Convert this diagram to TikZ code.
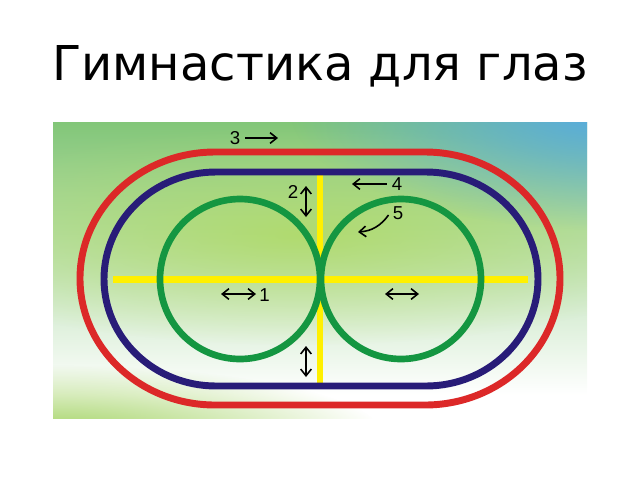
\documentclass[tikz,border=0pt]{standalone}
\usepackage{fontspec}
\setmainfont{DejaVu Sans}
\newfontfamily\labelfont{Liberation Sans}
\usepackage{tikz}
\usetikzlibrary{positioning, shapes, arrows.meta, fadings}
\definecolor{bgtop}{RGB}{130,198,120}
\definecolor{bgmid}{RGB}{175,218,95}
\definecolor{bgblue}{RGB}{85,170,230}
\definecolor{bggreen}{RGB}{160,210,95}
\definecolor{trackred}{RGB}{220,40,40}
\definecolor{tracknavy}{RGB}{40,28,120}
\definecolor{eyegreen}{RGB}{20,150,65}
\definecolor{crossyellow}{RGB}{255,240,0}
\tikzfading[name=glow, inner color=transparent!0, outer color=transparent!100]

\begin{document}
\begin{tikzpicture}[x=0.75pt, y=-0.75pt]
	\tikzstyle{outertrack}=[draw=trackred, line width=5.2pt]
	\tikzstyle{innertrack}=[draw=tracknavy, line width=5.2pt]
	\tikzstyle{eye}=[circle, draw=eyegreen, line width=5pt, minimum size=120pt, inner sep=0pt]
	\tikzstyle{cross}=[crossyellow, line width=4.8pt]
	\tikzstyle{move}=[line width=1.2pt, >={Straight Barb[length=5pt, width=8pt]}]
	\tikzstyle{num}=[font=\labelfont\fontsize{14pt}{15pt}\selectfont, inner sep=0pt]
	\useasboundingbox (0,0) rectangle (640,480);
	
	\node (title) at (320,80) [anchor=base, font=\fontsize{36pt}{40pt}\selectfont]{Гимнастика для глаз};
	
	\begin{scope}
		\clip (53,122) rectangle (587,418);
		\shade[top color=bgtop, middle color=bgmid, bottom color=white] (53,122) rectangle (587,395);
		\fill[white] (53,395) rectangle (587,418);
		\fill[bgmid, path fading=glow, opacity=0.8] (300,235) ellipse (420 and 110);
		\fill[bgblue, path fading=glow] (610,110) ellipse (320 and 120);
		\fill[bggreen, path fading=glow] (53,435) ellipse (330 and 70);
	\end{scope}
	
	\draw[cross] (113,279.5) -- (528,279.5);
	\draw[cross] (320,174) -- (320,385);
	
	\draw[outertrack] (215,152) -- (425,152) arc(-90:90:135 and 126.5) -- (215,405) arc(90:270:135 and 126.5) -- cycle;
	\draw[innertrack] (216,172) -- (426,172) arc(-90:90:112 and 107) -- (216,386) arc(90:270:112 and 107) -- cycle;
	\node (left) at (240,279) [eye]{};
	\node (right) at (401,279) [eye]{};
	
	\node (n1) at (259,295) [num, anchor=west]{1};
	\node (n2) at (293,192) [num]{2};
	\node (n3) at (235,138) [num]{3};
	\node (n4) at (397,184) [num]{4};
	\node (n5) at (398,213) [num]{5};
	
	\coordinate (h1a) at (221,294);
	\coordinate (h1b) at (256,294);
	\coordinate (h2a) at (385,294);
	\coordinate (h2b) at (419,294);
	\coordinate (v1a) at (306,186);
	\coordinate (v1b) at (306,217);
	\coordinate (v2a) at (306,346);
	\coordinate (v2b) at (306,377);
	\coordinate (r3) at (278,138);
	\coordinate (l4) at (352,184);
	\coordinate (c5) at (358,232);
	
	\draw[move, <->] (h1a) -- (h1b);
	\draw[move, <->] (h2a) -- (h2b);
	\draw[move, <->] (v1a) -- (v1b);
	\draw[move, <->] (v2a) -- (v2b);
	\draw[move, ->] (n3.east) ++(5,0) -- (r3);
	\draw[move, ->] (n4.west) ++(-5,0) -- (l4);
	\draw[move, ->] (n5.west) ++(-4,2) to[bend left=25] (c5);
\end{tikzpicture}
\end{document}
